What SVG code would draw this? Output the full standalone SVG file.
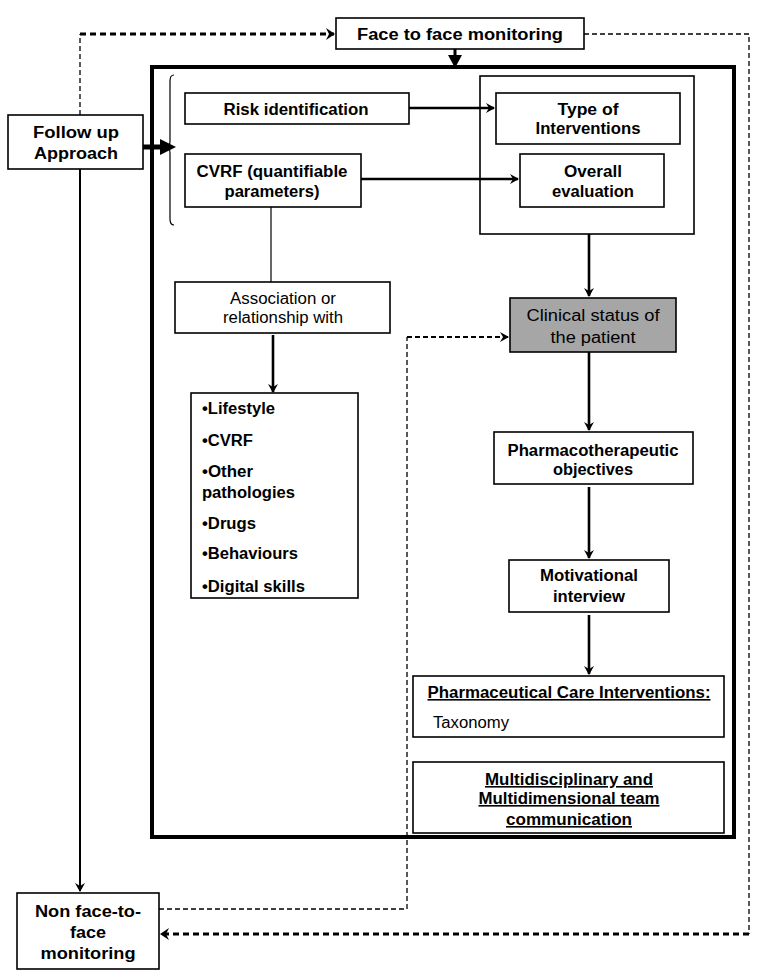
<svg xmlns="http://www.w3.org/2000/svg" width="762" height="974" viewBox="0 0 762 974">
<style>
.box{fill:#fff;stroke:#000;stroke-width:1.6}
.t{font-family:"Liberation Sans",Arial,sans-serif;font-size:16px;fill:#000;text-anchor:middle}
.b{font-weight:bold}
.l{text-anchor:start}
.u{text-decoration:underline}
.ln{fill:none;stroke:#000;stroke-width:2.6}
.thin{fill:none;stroke:#000;stroke-width:1.2}
.vline{fill:none;stroke:#000;stroke-width:2}
.dthin{fill:none;stroke:#000;stroke-width:1.3;stroke-dasharray:5 3}
.dthick{fill:none;stroke:#000;stroke-width:3;stroke-dasharray:6 4}
.dmed{fill:none;stroke:#000;stroke-width:2;stroke-dasharray:5 3}
</style>
<defs>
<marker id="ah" markerWidth="10" markerHeight="10" refX="8" refY="5" orient="auto" markerUnits="userSpaceOnUse"><path d="M0,0 L9,5 L0,10 L3,5 Z" fill="#000"/></marker>
<marker id="ahd" markerWidth="10" markerHeight="12" refX="8" refY="6" orient="auto" markerUnits="userSpaceOnUse"><path d="M0,0 L9,6 L0,12 L3,6 Z" fill="#000"/></marker>
</defs>
<rect width="762" height="974" fill="#fff"/>

<g id="main-frame"><rect x="152" y="67" width="582" height="770" fill="none" stroke="#000" stroke-width="4"/></g>
<g id="right-group"><rect x="480" y="76" width="214" height="158" class="box"/></g>

<g id="face">
<rect x="336" y="18" width="248" height="31" class="box"/>
<text x="460" y="40" class="t b" font-size="17" textLength="206" lengthAdjust="spacingAndGlyphs">Face to face monitoring</text>
</g>

<g id="follow">
<rect x="8" y="115" width="135" height="54" class="box"/>
<text x="76" y="138" class="t b" font-size="17" textLength="86" lengthAdjust="spacingAndGlyphs">Follow up</text>
<text x="76" y="159" class="t b" font-size="17" textLength="84" lengthAdjust="spacingAndGlyphs">Approach</text>
</g>

<g id="nonface">
<rect x="17" y="893" width="142" height="76" class="box"/>
<text x="88" y="917" class="t b" font-size="17" textLength="106" lengthAdjust="spacingAndGlyphs">Non face-to-</text>
<text x="88" y="938" class="t b" font-size="17" textLength="36" lengthAdjust="spacingAndGlyphs">face</text>
<text x="88" y="959" class="t b" font-size="17" textLength="95" lengthAdjust="spacingAndGlyphs">monitoring</text>
</g>

<g id="brace"><path d="M174,75 Q170,75 170,81 L170,141 Q170,147 166,147 Q170,147 170,153 L170,219 Q170,225 174,225" class="thin"/></g>

<g id="risk">
<rect x="185" y="93" width="224" height="31" class="box"/>
<text x="296" y="115" class="t b" textLength="145" lengthAdjust="spacingAndGlyphs">Risk identification</text>
</g>

<g id="cvrf">
<rect x="185" y="154" width="176" height="53" class="box"/>
<text x="272" y="177" class="t b" textLength="151" lengthAdjust="spacingAndGlyphs">CVRF (quantifiable</text>
<text x="272" y="197" class="t b" textLength="95" lengthAdjust="spacingAndGlyphs">parameters)</text>
</g>

<g id="type">
<rect x="496" y="93" width="184" height="51" class="box"/>
<text x="588" y="115" class="t b" textLength="61" lengthAdjust="spacingAndGlyphs">Type of</text>
<text x="588" y="134" class="t b" textLength="105" lengthAdjust="spacingAndGlyphs">Interventions</text>
</g>

<g id="overall">
<rect x="520" y="154" width="144" height="53" class="box"/>
<text x="593" y="177" class="t b" textLength="58" lengthAdjust="spacingAndGlyphs">Overall</text>
<text x="593" y="197" class="t b" textLength="82" lengthAdjust="spacingAndGlyphs">evaluation</text>
</g>

<g id="association">
<rect x="175" y="282" width="215" height="51" class="box"/>
<text x="283" y="304" class="t" textLength="106" lengthAdjust="spacingAndGlyphs">Association or</text>
<text x="283" y="323" class="t" textLength="120" lengthAdjust="spacingAndGlyphs">relationship with</text>
</g>

<g id="list">
<rect x="191" y="393" width="167" height="205" class="box"/>
<text x="202" y="414" class="t b l" textLength="73" lengthAdjust="spacingAndGlyphs">•Lifestyle</text>
<text x="202" y="446" class="t b l" textLength="51" lengthAdjust="spacingAndGlyphs">•CVRF</text>
<text x="202" y="477" class="t b l" textLength="51" lengthAdjust="spacingAndGlyphs">•Other</text>
<text x="202" y="498" class="t b l" textLength="93" lengthAdjust="spacingAndGlyphs">pathologies</text>
<text x="202" y="529" class="t b l" textLength="54" lengthAdjust="spacingAndGlyphs">•Drugs</text>
<text x="202" y="559" class="t b l" textLength="96" lengthAdjust="spacingAndGlyphs">•Behaviours</text>
<text x="202" y="592" class="t b l" textLength="103" lengthAdjust="spacingAndGlyphs">•Digital skills</text>
</g>

<g id="clinical">
<rect x="510" y="298" width="166" height="54" fill="#a6a6a6" stroke="#000" stroke-width="1.6"/>
<text x="593" y="321" class="t" font-size="17" textLength="133" lengthAdjust="spacingAndGlyphs">Clinical status of</text>
<text x="593" y="343" class="t" font-size="17" textLength="85" lengthAdjust="spacingAndGlyphs">the patient</text>
</g>

<g id="pharmaco">
<rect x="494" y="432" width="199" height="52" class="box"/>
<text x="593" y="456" class="t b" textLength="171" lengthAdjust="spacingAndGlyphs">Pharmacotherapeutic</text>
<text x="593" y="475" class="t b" textLength="80" lengthAdjust="spacingAndGlyphs">objectives</text>
</g>

<g id="motivational">
<rect x="509" y="560" width="160" height="52" class="box"/>
<text x="589" y="581" class="t b" textLength="98" lengthAdjust="spacingAndGlyphs">Motivational</text>
<text x="589" y="602" class="t b" textLength="72" lengthAdjust="spacingAndGlyphs">interview</text>
</g>

<g id="pci">
<rect x="413" y="676" width="311" height="61" class="box"/>
<text x="569" y="698" class="t b u" font-size="15" textLength="283" lengthAdjust="spacingAndGlyphs">Pharmaceutical Care Interventions:</text>
<text x="433" y="728" class="t l" font-size="15" textLength="76" lengthAdjust="spacingAndGlyphs">Taxonomy</text>
</g>

<g id="multi">
<rect x="413" y="762" width="311" height="71" class="box"/>
<text x="569" y="785" class="t b u" textLength="168" lengthAdjust="spacingAndGlyphs">Multidisciplinary and</text>
<text x="569" y="804" class="t b u" textLength="181" lengthAdjust="spacingAndGlyphs">Multidimensional team</text>
<text x="569" y="825" class="t b u" textLength="126" lengthAdjust="spacingAndGlyphs">communication</text>
</g>

<g id="connectors">
<line x1="455" y1="49" x2="455" y2="56" stroke="#000" stroke-width="3"/>
<path d="M448,55 L462,55 L455,68 Z" fill="#000"/>
<line x1="143" y1="147" x2="162" y2="147" stroke="#000" stroke-width="5"/>
<path d="M160,139 L176,147 L160,155 Z" fill="#000"/>
<line x1="409" y1="108" x2="494" y2="108" class="ln" marker-end="url(#ah)"/>
<line x1="361" y1="179" x2="518" y2="179" class="ln" marker-end="url(#ah)"/>
<line x1="271" y1="207" x2="271" y2="282" class="thin"/>
<line x1="273" y1="335" x2="273" y2="392" class="ln" marker-end="url(#ah)"/>
<line x1="589" y1="234" x2="589" y2="296" class="ln" marker-end="url(#ah)"/>
<line x1="589" y1="352" x2="589" y2="430" class="ln" marker-end="url(#ah)"/>
<line x1="589" y1="487" x2="589" y2="558" class="ln" marker-end="url(#ah)"/>
<line x1="589" y1="615" x2="589" y2="674" class="ln" marker-end="url(#ah)"/>
<line x1="80" y1="169" x2="80" y2="891" class="vline" marker-end="url(#ah)"/>
<path d="M80,115 L80,34" class="dthin"/>
<path d="M80,34 L334,34" class="dthick" marker-end="url(#ahd)"/>
<path d="M584,34 L749,34 L749,934" class="dthin"/>
<path d="M749,934 L161,934" class="dthick" marker-end="url(#ahd)"/>
<path d="M159,909 L407,909 L407,337" class="dthin"/>
<path d="M407,337 L508,337" class="dmed" marker-end="url(#ah)"/>
</g>
</svg>
